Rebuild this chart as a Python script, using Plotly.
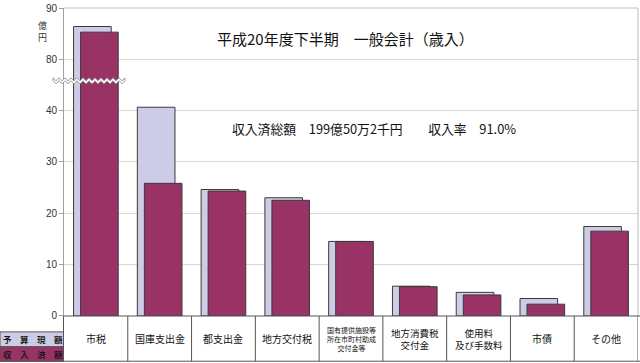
import plotly.graph_objects as go

# ---------------- data ----------------
categories = ["市税", "国庫支出金", "都支出金", "地方交付税",
              "国有提供施設等\n所在市町村助成\n交付金等", "地方消費税\n交付金",
              "使用料\n及び手数料", "市債", "その他"]
budget = [86.4, 40.6, 24.6, 23.0, 14.5, 5.8, 4.6, 3.4, 17.4]
actual = [85.3, 25.8, 24.3, 22.5, 14.5, 5.7, 4.1, 2.3, 16.5]
budget_name = "予算現額"
actual_name = "収入済額"
title_text = "平成20年度下半期　一般会計（歳入）"
subtitle_text = "収入済総額　199億50万2千円　　収入率　91.0%"
unit_text = "億<br>円"
low_ticks = [0, 10, 20, 30, 40]
high_ticks = [80, 90]

# ---------------- geometry ----------------
W, H = 640, 363
L, R, T, B = 64, 2, 6, 47
PX0, PX1 = L, W - R
PY0, PY1 = T, H - B
PW, PH = PX1 - PX0, PY1 - PY0

def px(x):
    return (x - PX0) / PW

def py(y):
    return (PY1 - y) / PH

BREAK_Y = 79.3
split = py(BREAK_Y)
scale = 5.175  # px per unit
low_max = (PY1 - BREAK_Y) / scale
high_min = 90 - (BREAK_Y - PY0) / scale

C_BUD = "#CCCCE6"
C_ACT = "#993366"
C_EDGE = "#3a3a3a"
CJK = "Noto Sans CJK JP"

xs = list(range(len(categories)))
fig = go.Figure()
for yax in ["y", "y2"]:
    fig.add_trace(go.Bar(x=xs, y=budget, name=budget_name, yaxis=yax, xaxis="x",
                         width=0.59, offset=-0.35,
                         marker=dict(color=C_BUD, line=dict(color=C_EDGE, width=1)),
                         showlegend=False, hoverinfo="y"))
    fig.add_trace(go.Bar(x=xs, y=actual, name=actual_name, yaxis=yax, xaxis="x",
                         width=0.59, offset=-0.24,
                         marker=dict(color=C_ACT, line=dict(color=C_EDGE, width=1)),
                         showlegend=False, hoverinfo="y"))

axis_common = dict(showgrid=True, gridcolor="#D6D6D6", gridwidth=1,
                   showline=True, linecolor="#A0A0A0", linewidth=1,
                   ticks="outside", ticklen=4, tickcolor="#A0A0A0",
                   tickfont=dict(family="Liberation Sans, Arial", size=10, color="#333333"),
                   zeroline=False, fixedrange=True)

fig.update_layout(
    width=W, height=H,
    margin=dict(l=L, r=R, t=T, b=B),
    paper_bgcolor="white", plot_bgcolor="white",
    barmode="overlay", showlegend=False,
    xaxis=dict(range=[-0.5, len(categories) - 0.5], showticklabels=False,
               showgrid=False, zeroline=False, showline=False, ticks="", fixedrange=True),
    yaxis=dict(domain=[0, split], range=[0, low_max], tickvals=low_ticks, anchor="x",
               **axis_common),
    yaxis2=dict(domain=[split, 1], range=[high_min, 90], tickvals=high_ticks, anchor="x",
                **axis_common),
)

shapes = []
# plot frame top & right
shapes.append(dict(type="line", xref="paper", yref="paper", x0=0, x1=1, y0=1, y1=1,
                   line=dict(color="#BDBDBD", width=1)))
shapes.append(dict(type="line", xref="paper", yref="paper", x0=1, x1=1, y0=0, y1=1,
                   line=dict(color="#BDBDBD", width=1)))

# zigzag break mark
zx0, zx1, period, amp, band = 53, 125, 6.0, 1.5, 3.0
pts_top, pts_bot = [], []
n = int((zx1 - zx0) / (period / 2)) + 1
for i in range(n):
    xx = zx0 + i * period / 2
    off = -amp if i % 2 == 0 else amp
    pts_top.append((xx, BREAK_Y - band / 2 + off))
    pts_bot.append((xx, BREAK_Y + band / 2 + off))
path = "M " + " L ".join(f"{px(a):.5f},{py(b):.5f}" for a, b in pts_top)
path += " L " + " L ".join(f"{px(a):.5f},{py(b):.5f}" for a, b in reversed(pts_bot)) + " Z"
shapes.append(dict(type="path", xref="paper", yref="paper", path=path,
                   fillcolor="white", line=dict(color="#9A9A9A", width=1)))

# table
TB_TOP, TB_BOT = PY1, 361.5
shapes.append(dict(type="line", xref="paper", yref="paper", x0=px(63.5), x1=px(640),
                   y0=py(TB_TOP), y1=py(TB_TOP), line=dict(color="#555555", width=1)))
shapes.append(dict(type="line", xref="paper", yref="paper", x0=px(0), x1=px(640),
                   y0=py(TB_BOT), y1=py(TB_BOT), line=dict(color="#555555", width=1)))
shapes.append(dict(type="line", xref="paper", yref="paper", x0=px(63.5), x1=px(63.5),
                   y0=py(TB_TOP), y1=py(TB_BOT), line=dict(color="#555555", width=1)))
for i in range(1, len(categories) + 1):
    shapes.append(dict(type="line", xref="x", yref="paper", x0=i - 0.5, x1=i - 0.5,
                       y0=py(TB_TOP), y1=py(TB_BOT), line=dict(color="#555555", width=1)))

# legend cells
LG = [(budget_name, C_BUD, 332, 347), (actual_name, C_ACT, 347, TB_BOT)]
for name, col, ya, yb in LG:
    shapes.append(dict(type="rect", xref="paper", yref="paper", x0=px(0), x1=px(63.5),
                       y0=py(yb), y1=py(ya), fillcolor=col,
                       line=dict(color="#555555", width=1), layer="above"))
fig.update_layout(shapes=shapes)

ann = []
def add_text(text, x, y, size, color="#111111", xref="paper", family=CJK):
    ann.append(dict(text=text, xref=xref, yref="paper", x=x, y=y, showarrow=False,
                    xanchor="center", yanchor="middle",
                    font=dict(family=family, size=size, color=color)))

add_text(title_text, px(345), py(37), 15)
add_text(subtitle_text, px(374), py(127.5), 12.8)
add_text(unit_text, px(42), py(29.5), 9, color="#333333")

for i, cat in enumerate(categories):
    lines = cat.split("\n")
    if len(lines) == 1:
        fs = 10
    elif len(lines) == 2:
        fs = 9.5
    else:
        fs = 7
    add_text("<br>".join(lines), i, py(339), fs, xref="x")

for name, col, ya, yb in LG:
    add_text("<b>" + "　".join(list(name)) + "</b>", px(33), py((ya + yb) / 2), 8.5,
             color="#1a1a1a")
fig.update_layout(annotations=ann)

fig.write_html("out.html", config={"displayModeBar": False},
               post_script="document.body.style.margin='0';document.body.style.overflow='hidden';")
